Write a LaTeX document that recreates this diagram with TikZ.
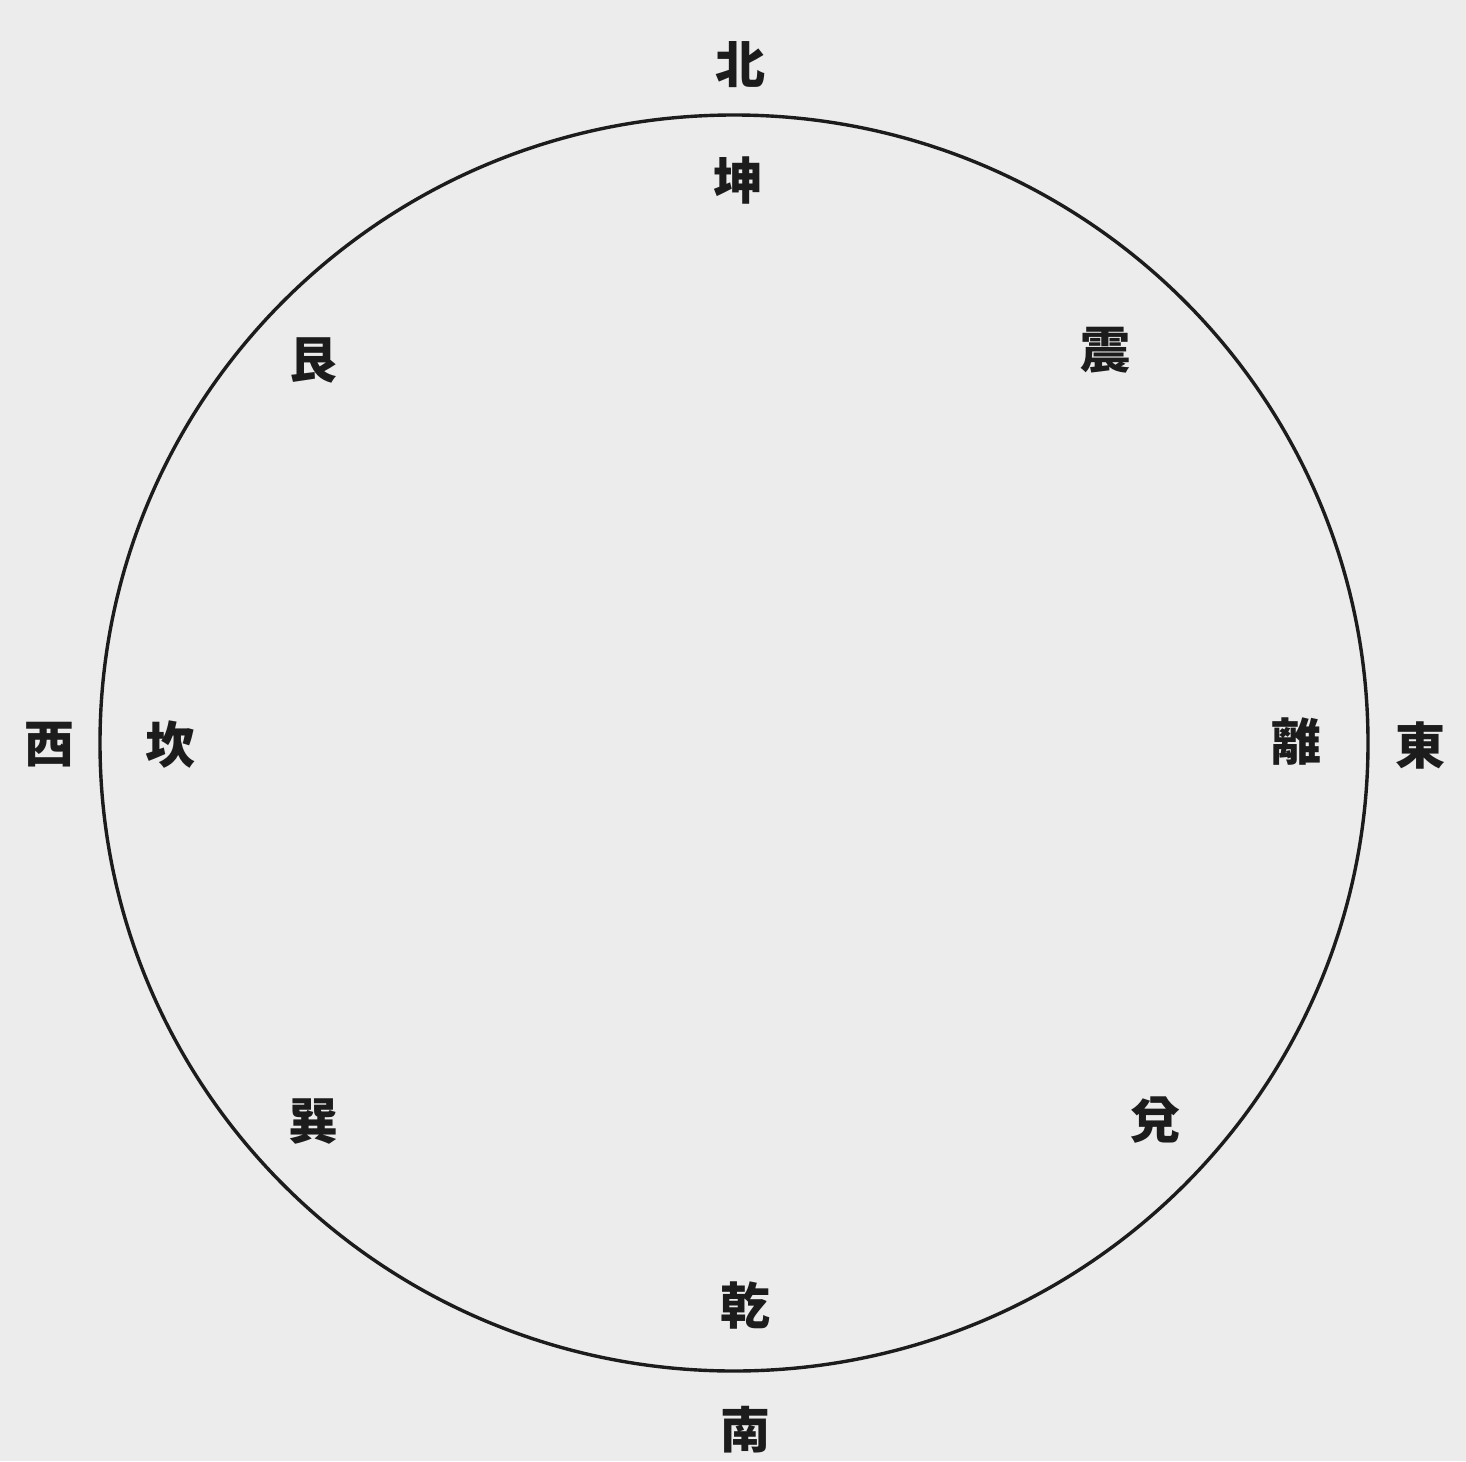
\documentclass[tikz,border=0pt]{standalone}
\usepackage{fontspec}
\newfontfamily\cjk{Noto Sans CJK JP}
\definecolor{paper}{HTML}{ECECEC}
\definecolor{ink}{HTML}{1C1C1C}
\begin{document}
\begin{tikzpicture}[x=0.5pt,y=-0.5pt,
  lab/.style={inner sep=0pt, text=ink, font=\cjk\bfseries\fontsize{25}{25}\selectfont}]
\fill[paper] (0,0) rectangle (1466,1461);
\useasboundingbox (0,0) rectangle (1466,1461);
\coordinate (c) at (734,743);
\draw[ink, line width=1.7pt] (c) ellipse [x radius=634, y radius=628];
\node[lab] (bei) at (740,65) {北};
\node[lab] (kun) at (738,180) {坤};
\node[lab] (gen) at (313,360) {艮};
\node[lab] (zhen) at (1105,350) {震};
\node[lab] (xi) at (50,745) {西};
\node[lab] (kan) at (170,745) {坎};
\node[lab] (li) at (1296,742) {離};
\node[lab] (dong) at (1420,745) {東};
\node[lab] (xun) at (313,1122) {巽};
\node[lab] (dui) at (1155,1120) {兌};
\node[lab] (qian) at (745,1305) {乾};
\node[lab] (nan) at (745,1430) {南};
\end{tikzpicture}
\end{document}
